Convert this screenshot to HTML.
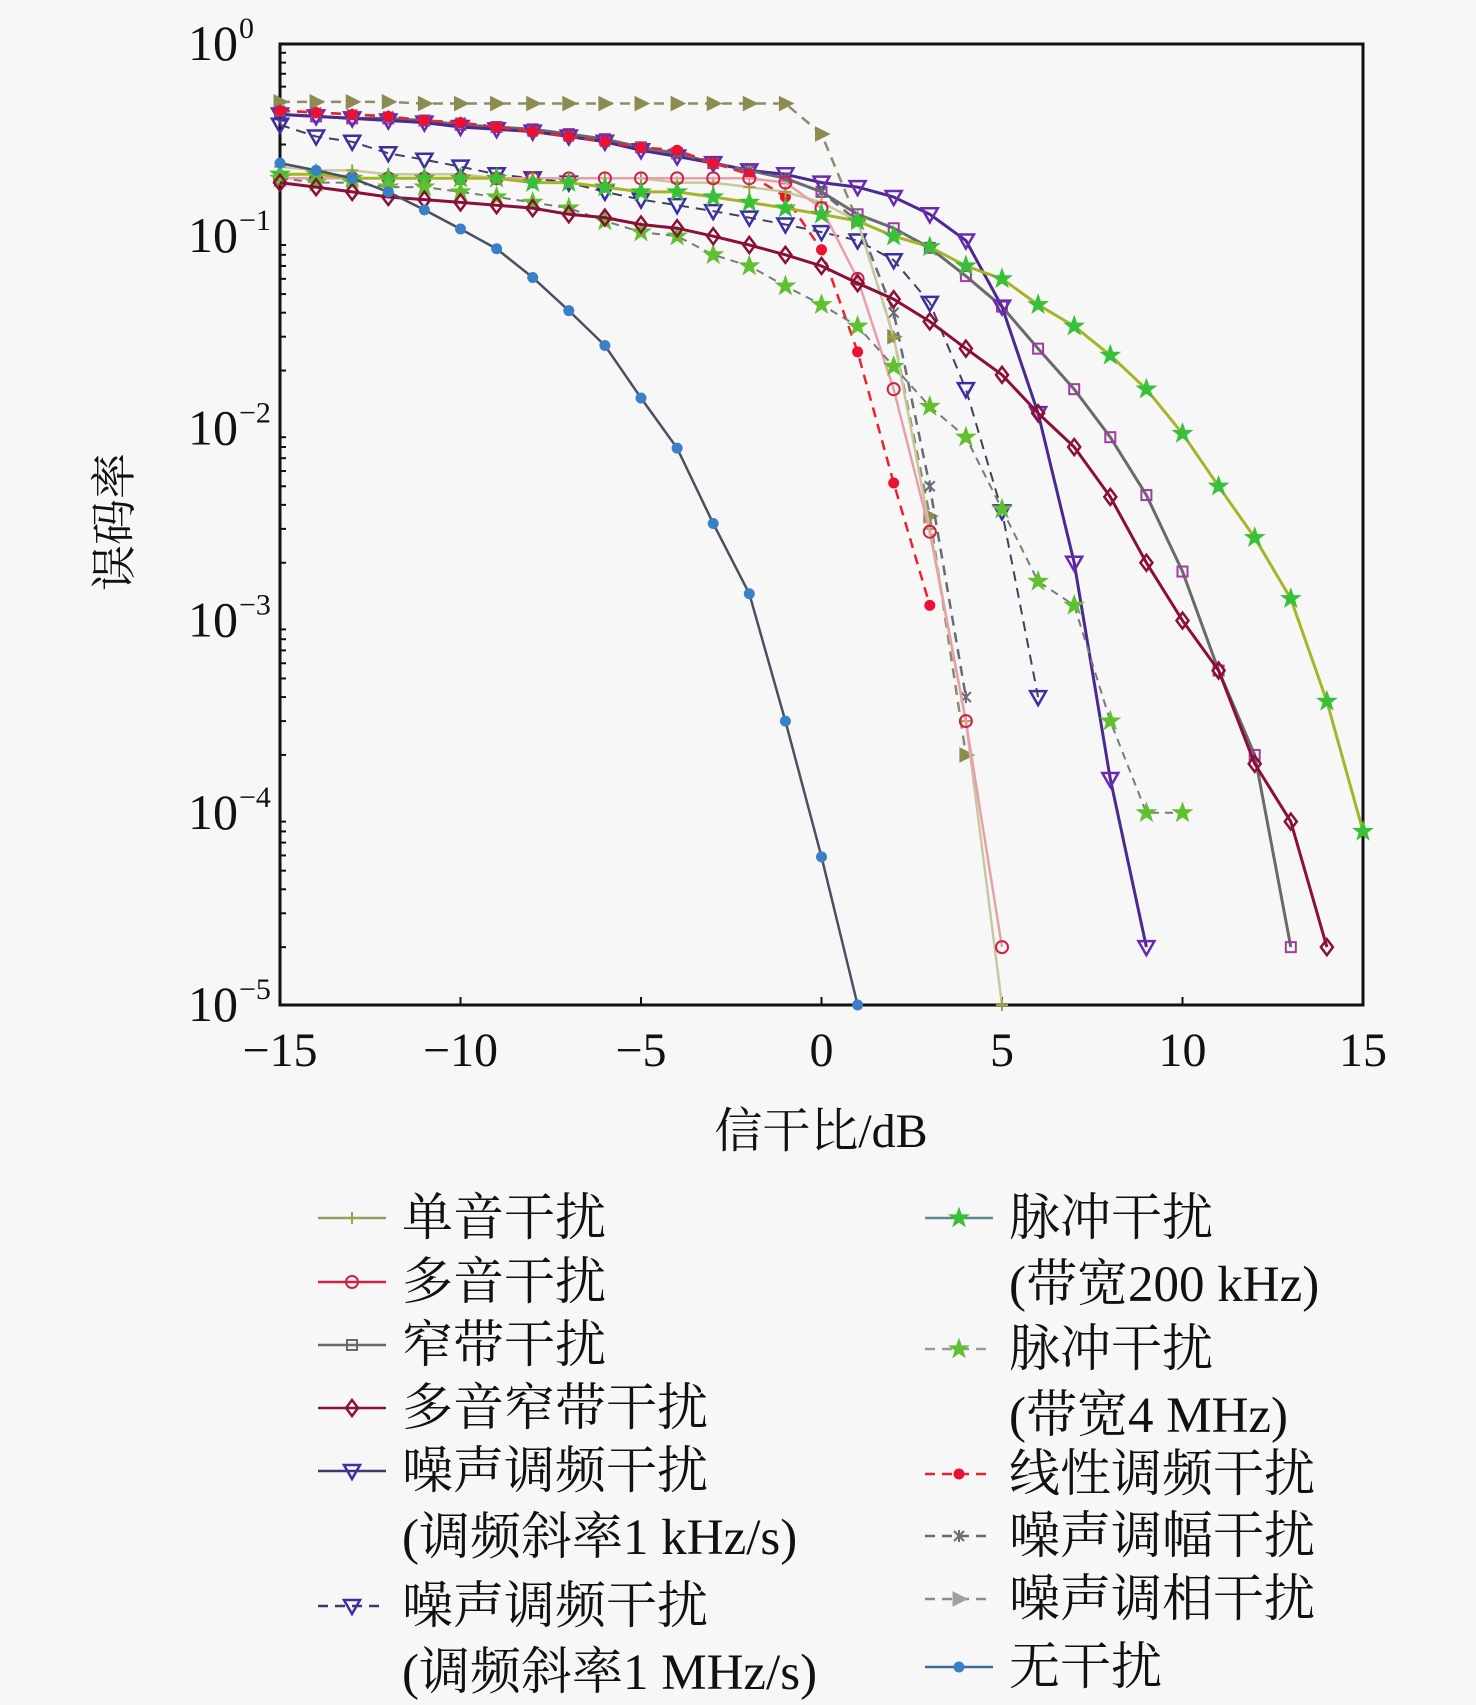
<!DOCTYPE html>
<html><head><meta charset="utf-8"><style>
html,body{margin:0;padding:0;background:#f7f7f7;}
svg{display:block;}
text{font-family:"Liberation Serif","Noto Serif CJK SC",serif;fill:#111;}
</style></head><body>
<svg id="chart" width="1476" height="1705" viewBox="0 0 1476 1705" xmlns="http://www.w3.org/2000/svg">
<rect x="280" y="44" width="1083" height="961" fill="#f7f7f7" stroke="#111" stroke-width="3"/>
<g id="axes"></g>
<g id="series"></g>
<g id="legend"></g>
<text x="821" y="1147" font-size="48" text-anchor="middle">信干比/dB</text>
<text x="0" y="0" font-size="46" text-anchor="middle" transform="translate(130,522) rotate(-90)">误码率</text>
</svg>
<script>
const xs = [-15,-14,-13,-12,-11,-10,-9,-8,-7,-6,-5,-4,-3,-2,-1,0,1,2,3,4,5,6,7,8,9,10,11,12,13,14,15];
const xTicks = [-15,-10,-5,0,5,10,15];
const xTickLabels = ["\u221215","\u221210","\u22125","0","5","10","15"];
const yExps = [0,-1,-2,-3,-4,-5];
const yTickLabels = ["0","\u22121","\u22122","\u22123","\u22124","\u22125"];

const sPhase = [0.5,0.5,0.5,0.5,0.49,0.49,0.49,0.49,0.49,0.49,0.49,0.49,0.49,0.49,0.49,0.34,0.12,0.03,0.0035,0.0002];
const sNarrow = [0.43,0.42,0.41,0.41,0.4,0.38,0.37,0.36,0.34,0.32,0.29,0.27,0.24,0.22,0.2,0.17,0.13,0.11,0.087,0.062,0.043,0.026,0.016,0.009,0.0045,0.0018,0.00055,0.0002,0.00002];
const sLinear = [0.45,0.44,0.43,0.42,0.4,0.39,0.37,0.35,0.33,0.31,0.29,0.28,0.24,0.21,0.16,0.085,0.025,0.0052,0.0012];
const sAM = [0.45,0.44,0.43,0.42,0.4,0.39,0.37,0.35,0.33,0.31,0.29,0.27,0.24,0.22,0.2,0.17,0.12,0.04,0.005,0.0004];
const sFM1k = [0.43,0.42,0.41,0.4,0.39,0.37,0.36,0.35,0.33,0.31,0.28,0.26,0.24,0.22,0.21,0.19,0.18,0.16,0.13,0.095,0.043,0.012,0.002,0.00015,0.00002];
const sFM1M = [0.38,0.33,0.31,0.27,0.25,0.23,0.21,0.2,0.19,0.17,0.155,0.145,0.135,0.125,0.115,0.105,0.095,0.075,0.045,0.016,0.0037,0.0004];
const sTone = [0.23,0.22,0.22,0.21,0.21,0.21,0.2,0.2,0.2,0.2,0.2,0.19,0.19,0.18,0.17,0.15,0.12,0.03,0.003,0.0003,0.00001];
const sMulti = [0.2,0.2,0.2,0.2,0.2,0.2,0.2,0.2,0.2,0.2,0.2,0.2,0.2,0.2,0.19,0.14,0.06,0.016,0.0029,0.0003,0.00002];
const sPulse200k = [0.21,0.21,0.2,0.2,0.2,0.2,0.2,0.19,0.19,0.18,0.17,0.17,0.16,0.15,0.14,0.13,0.12,0.1,0.088,0.07,0.06,0.044,0.034,0.024,0.016,0.0094,0.005,0.0027,0.0013,0.00038,0.00008];
const sPulse4M = [0.2,0.19,0.19,0.18,0.18,0.17,0.16,0.15,0.14,0.12,0.105,0.1,0.08,0.07,0.055,0.044,0.034,0.021,0.013,0.009,0.0038,0.0016,0.0012,0.0003,0.0001,0.0001];
const sMultiNarrow = [0.19,0.18,0.17,0.16,0.155,0.15,0.145,0.14,0.13,0.125,0.115,0.11,0.1,0.09,0.08,0.07,0.057,0.047,0.036,0.026,0.019,0.012,0.008,0.0044,0.002,0.001,0.00055,0.00018,0.00009,0.00002];
const sNone = [0.24,0.22,0.2,0.17,0.137,0.109,0.086,0.061,0.041,0.027,0.0144,0.0079,0.0032,0.00138,0.0003,0.000059,0.00001];

const X0=280,X1=1363,Y0=44,Y1=1005;
function xScale(v){return X0+(v+15)/30*(X1-X0);}
function yScale(v){return Y0+(-Math.log10(v))/5*(Y1-Y0);}
const NS="http://www.w3.org/2000/svg";
function mk(tag,attrs,parent){const e=document.createElementNS(NS,tag);for(const k in attrs)e.setAttribute(k,attrs[k]);parent.appendChild(e);return e;}

const axes=document.getElementById('axes');
xTicks.forEach((t,i)=>{
  const x=xScale(t);
  const l=mk('line',{x1:x,x2:x,y1:Y1,y2:Y1-8,stroke:'#111','stroke-width':2},axes);
  
  
  const tx=mk('text',{x:x,y:1066,'font-size':48,'text-anchor':'middle'},axes);
  tx.textContent=xTickLabels[i];
  
  
});
yExps.forEach((e,i)=>{
  const y=yScale(Math.pow(10,e));
  const tx=mk('text',{x:238,y:y+16,'font-size':50,'text-anchor':'end'},axes);
  tx.textContent='10';
  
  
  const sup=mk('text',{x:239,y:y-6,'font-size':30},axes);
  sup.textContent=yTickLabels[i];
  
  
  if(e>-5){for(let m=2;m<=9;m++){
    const yy=yScale(m*Math.pow(10,e-1));
    const t=mk('line',{x1:X0,x2:X0+6,y1:yy,y2:yy,stroke:'#111','stroke-width':2},axes);
    
    
  }}
});

function marker(g,type,x,y,color){
  let e;
  if(type==='circle') e=mk('circle',{cx:x,cy:y,r:6,fill:'none',stroke:color,'stroke-width':2},g);
  else if(type==='dot') e=mk('circle',{cx:x,cy:y,r:5,fill:color,stroke:color},g);
  else if(type==='square') e=mk('rect',{x:x-5,y:y-5,width:10,height:10,fill:'none',stroke:color,'stroke-width':2},g);
  else if(type==='diamond') e=mk('polygon',{points:`${x},${y-8} ${x+6},${y} ${x},${y+8} ${x-6},${y}`,fill:'none',stroke:color,'stroke-width':2.5},g);
  else if(type==='tri-down') e=mk('polygon',{points:`${x-8},${y-6} ${x+8},${y-6} ${x},${y+8}`,fill:'none',stroke:color,'stroke-width':2.5},g);
  else if(type==='tri-right') e=mk('polygon',{points:`${x-6},${y-7} ${x+8},${y} ${x-6},${y+7}`,fill:color,stroke:color,'stroke-width':1},g);
  else if(type==='star'){let p=[];for(let k=0;k<10;k++){const r=k%2?4:10;const a=-Math.PI/2+k*Math.PI/5;p.push((x+r*Math.cos(a)).toFixed(1)+','+(y+r*Math.sin(a)).toFixed(1));}e=mk('polygon',{points:p.join(' '),fill:color,stroke:color},g);}
  else if(type==='plus'){e=mk('path',{d:`M${x-6},${y}H${x+6}M${x},${y-6}V${y+6}`,stroke:color,'stroke-width':2},g);}
  else if(type==='xstar'){e=mk('path',{d:`M${x-5},${y-5}L${x+5},${y+5}M${x+5},${y-5}L${x-5},${y+5}M${x},${y-6}V${y+6}`,stroke:color,'stroke-width':2},g);}
  return e;
}

const seriesDefs=[
 {name:'series-noise-pm',data:sPhase,line:'#8c8c6c',mk:'tri-right',mc:'#8c8c50',dash:'10,7',w:2.5},
 {name:'series-narrowband',data:sNarrow,line:'#6a6a6a',mk:'square',mc:'#a03ca0',dash:'',w:3},
 {name:'series-noise-fm-1k',data:sFM1k,line:'#4a2a90',mk:'tri-down',mc:'#6a2ab0',dash:'',w:3},
 {name:'series-noise-am',data:sAM,line:'#6a6a78',mk:'xstar',mc:'#6a6a78',dash:'10,7',w:2.5},
 {name:'series-linear-fm',data:sLinear,line:'#ee2030',mk:'dot',mc:'#ee1030',dash:'10,7',w:2.5},
 {name:'series-noise-fm-1m',data:sFM1M,line:'#404060',mk:'tri-down',mc:'#3a30a0',dash:'10,7',w:2},
 {name:'series-single-tone',data:sTone,line:'#c8c8a0',mk:'plus',mc:'#a0a040',dash:'',w:2.5},
 {name:'series-multi-tone',data:sMulti,line:'#e8a0a8',mk:'circle',mc:'#d0204a',dash:'',w:2.5},
 {name:'series-pulse-200k',data:sPulse200k,line:'#a8b428',mk:'star',mc:'#38c038',dash:'',w:3},
 {name:'series-pulse-4m',data:sPulse4M,line:'#7a7a7a',mk:'star',mc:'#60c030',dash:'8,6',w:2},
 {name:'series-multitone-narrowband',data:sMultiNarrow,line:'#8a1038',mk:'diamond',mc:'#8a1038',dash:'',w:3},
 {name:'series-no-interference',data:sNone,line:'#4a5060',mk:'dot',mc:'#3a80c8',dash:'',w:2.5}
];
const sg=document.getElementById('series');
seriesDefs.forEach(s=>{
  const g=mk('g',{},sg);
  
  
  const pts=s.data.map((v,i)=>xScale(xs[i]).toFixed(1)+','+yScale(v).toFixed(1)).join(' ');
  const pl=mk('polyline',{points:pts,fill:'none',stroke:s.line,'stroke-width':s.w,'stroke-dasharray':s.dash},g);
  
  
  s.data.forEach((v,i)=>{
    const m=marker(g,s.mk,xScale(xs[i]),yScale(v),s.mc);
    
    
  });
});

const lg=document.getElementById('legend');
const legendItems=[
 {x:318,y:1218,line:'#999966',mk:'plus',mc:'#a0a040',dash:'',t:['单音干扰']},
 {x:318,y:1282,line:'#d0204a',mk:'circle',mc:'#d0204a',dash:'',t:['多音干扰']},
 {x:318,y:1345,line:'#6a6a6a',mk:'square',mc:'#6a6a6a',dash:'',t:['窄带干扰']},
 {x:318,y:1408,line:'#8a1038',mk:'diamond',mc:'#8a1038',dash:'',t:['多音窄带干扰']},
 {x:318,y:1471,line:'#3a3a70',mk:'tri-down',mc:'#3a30a0',dash:'',t:['噪声调频干扰','(调频斜率1 kHz/s)']},
 {x:318,y:1606,line:'#3a3a70',mk:'tri-down',mc:'#3a30a0',dash:'10,7',t:['噪声调频干扰','(调频斜率1 MHz/s)']},
 {x:925,y:1218,line:'#5a8a8a',mk:'star',mc:'#38c038',dash:'',t:['脉冲干扰','(带宽200 kHz)']},
 {x:925,y:1349,line:'#999',mk:'star',mc:'#60c030',dash:'10,7',t:['脉冲干扰','(带宽4 MHz)']},
 {x:925,y:1474,line:'#ee2030',mk:'dot',mc:'#ee1030',dash:'10,7',t:['线性调频干扰']},
 {x:925,y:1536,line:'#6a6a78',mk:'xstar',mc:'#6a6a78',dash:'10,7',t:['噪声调幅干扰']},
 {x:925,y:1599,line:'#8c8c8c',mk:'tri-right',mc:'#a0a0a0',dash:'10,7',t:['噪声调相干扰']},
 {x:925,y:1667,line:'#3a6a9a',mk:'dot',mc:'#3a80c8',dash:'',t:['无干扰']}
];
legendItems.forEach(it=>{
  const g=mk('g',{},lg);
  
  
  mk('line',{x1:it.x,x2:it.x+68,y1:it.y,y2:it.y,stroke:it.line,'stroke-width':2.5,'stroke-dasharray':it.dash},g);
  marker(g,it.mk,it.x+34,it.y,it.mc);
  it.t.forEach((s,k)=>{
    const tx=mk('text',{x:it.x+84,y:it.y+17+k*66,'font-size':51},g);
    tx.textContent=s;
    
    
  });
});
</script>
</body></html>
